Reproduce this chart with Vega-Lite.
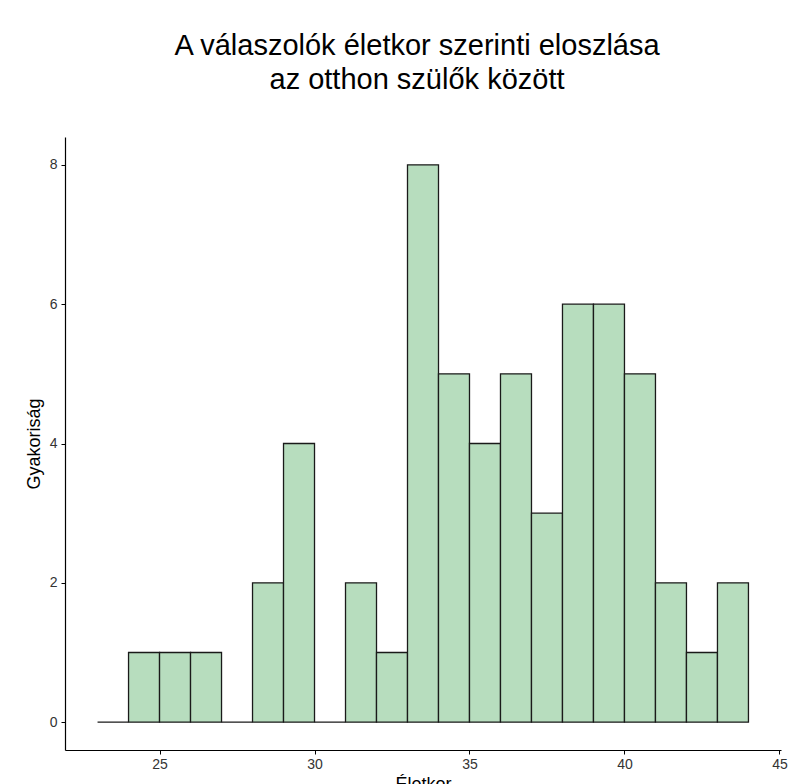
{
  "$schema": "https://vega.github.io/schema/vega-lite/v6.json",
  "autosize": "none",
  "width": 716,
  "height": 613,
  "padding": {"left": 65, "top": 137, "right": 7, "bottom": 34},
  "background": "white",
  "title": {
    "text": ["A válaszolók életkor szerinti eloszlása", "az otthon szülők között"],
    "font": "Liberation Sans",
    "fontSize": 29,
    "fontWeight": "normal",
    "color": "black",
    "anchor": "middle",
    "lineHeight": 34,
    "offset": 42,
    "dx": -6
  },
  "data": {
    "values": [
      {"start": 23, "end": 24, "count": 0},
      {"start": 24, "end": 25, "count": 1},
      {"start": 25, "end": 26, "count": 1},
      {"start": 26, "end": 27, "count": 1},
      {"start": 27, "end": 28, "count": 0},
      {"start": 28, "end": 29, "count": 2},
      {"start": 29, "end": 30, "count": 4},
      {"start": 30, "end": 31, "count": 0},
      {"start": 31, "end": 32, "count": 2},
      {"start": 32, "end": 33, "count": 1},
      {"start": 33, "end": 34, "count": 8},
      {"start": 34, "end": 35, "count": 5},
      {"start": 35, "end": 36, "count": 4},
      {"start": 36, "end": 37, "count": 5},
      {"start": 37, "end": 38, "count": 3},
      {"start": 38, "end": 39, "count": 6},
      {"start": 39, "end": 40, "count": 6},
      {"start": 40, "end": 41, "count": 5},
      {"start": 41, "end": 42, "count": 2},
      {"start": 42, "end": 43, "count": 1},
      {"start": 43, "end": 44, "count": 2}
    ]
  },
  "mark": {"type": "bar", "fill": "#b7ddbe", "stroke": "#1a1a1a", "strokeWidth": 1.3},
  "encoding": {
    "x": {
      "field": "start",
      "type": "quantitative",
      "scale": {"domain": [21.95, 45.05], "nice": false, "zero": false},
      "axis": {
        "title": "Életkor",
        "values": [25, 30, 35, 40, 45],
        "grid": false,
        "domainColor": "black",
        "domainWidth": 1.2,
        "tickColor": "black",
        "tickSize": 4,
        "labelFont": "Liberation Sans",
        "labelFontSize": 14,
        "labelColor": "#333333",
        "labelPadding": 3,
        "titleFont": "Liberation Sans",
        "titleFontSize": 18,
        "titleFontWeight": "normal",
        "titleColor": "black",
        "titlePadding": 4
      }
    },
    "x2": {"field": "end"},
    "y": {
      "field": "count",
      "type": "quantitative",
      "scale": {"domain": [-0.4, 8.4], "nice": false, "zero": false},
      "axis": {
        "title": "Gyakoriság",
        "values": [0, 2, 4, 6, 8],
        "grid": false,
        "domainColor": "black",
        "domainWidth": 1.2,
        "tickColor": "black",
        "tickSize": 4,
        "labelFont": "Liberation Sans",
        "labelFontSize": 14,
        "labelColor": "#333333",
        "labelPadding": 4,
        "titleFont": "Liberation Sans",
        "titleFontSize": 18,
        "titleFontWeight": "normal",
        "titleColor": "black",
        "titlePadding": 6
      }
    },
    "y2": {"datum": 0}
  },
  "config": {"view": {"stroke": null}}
}
